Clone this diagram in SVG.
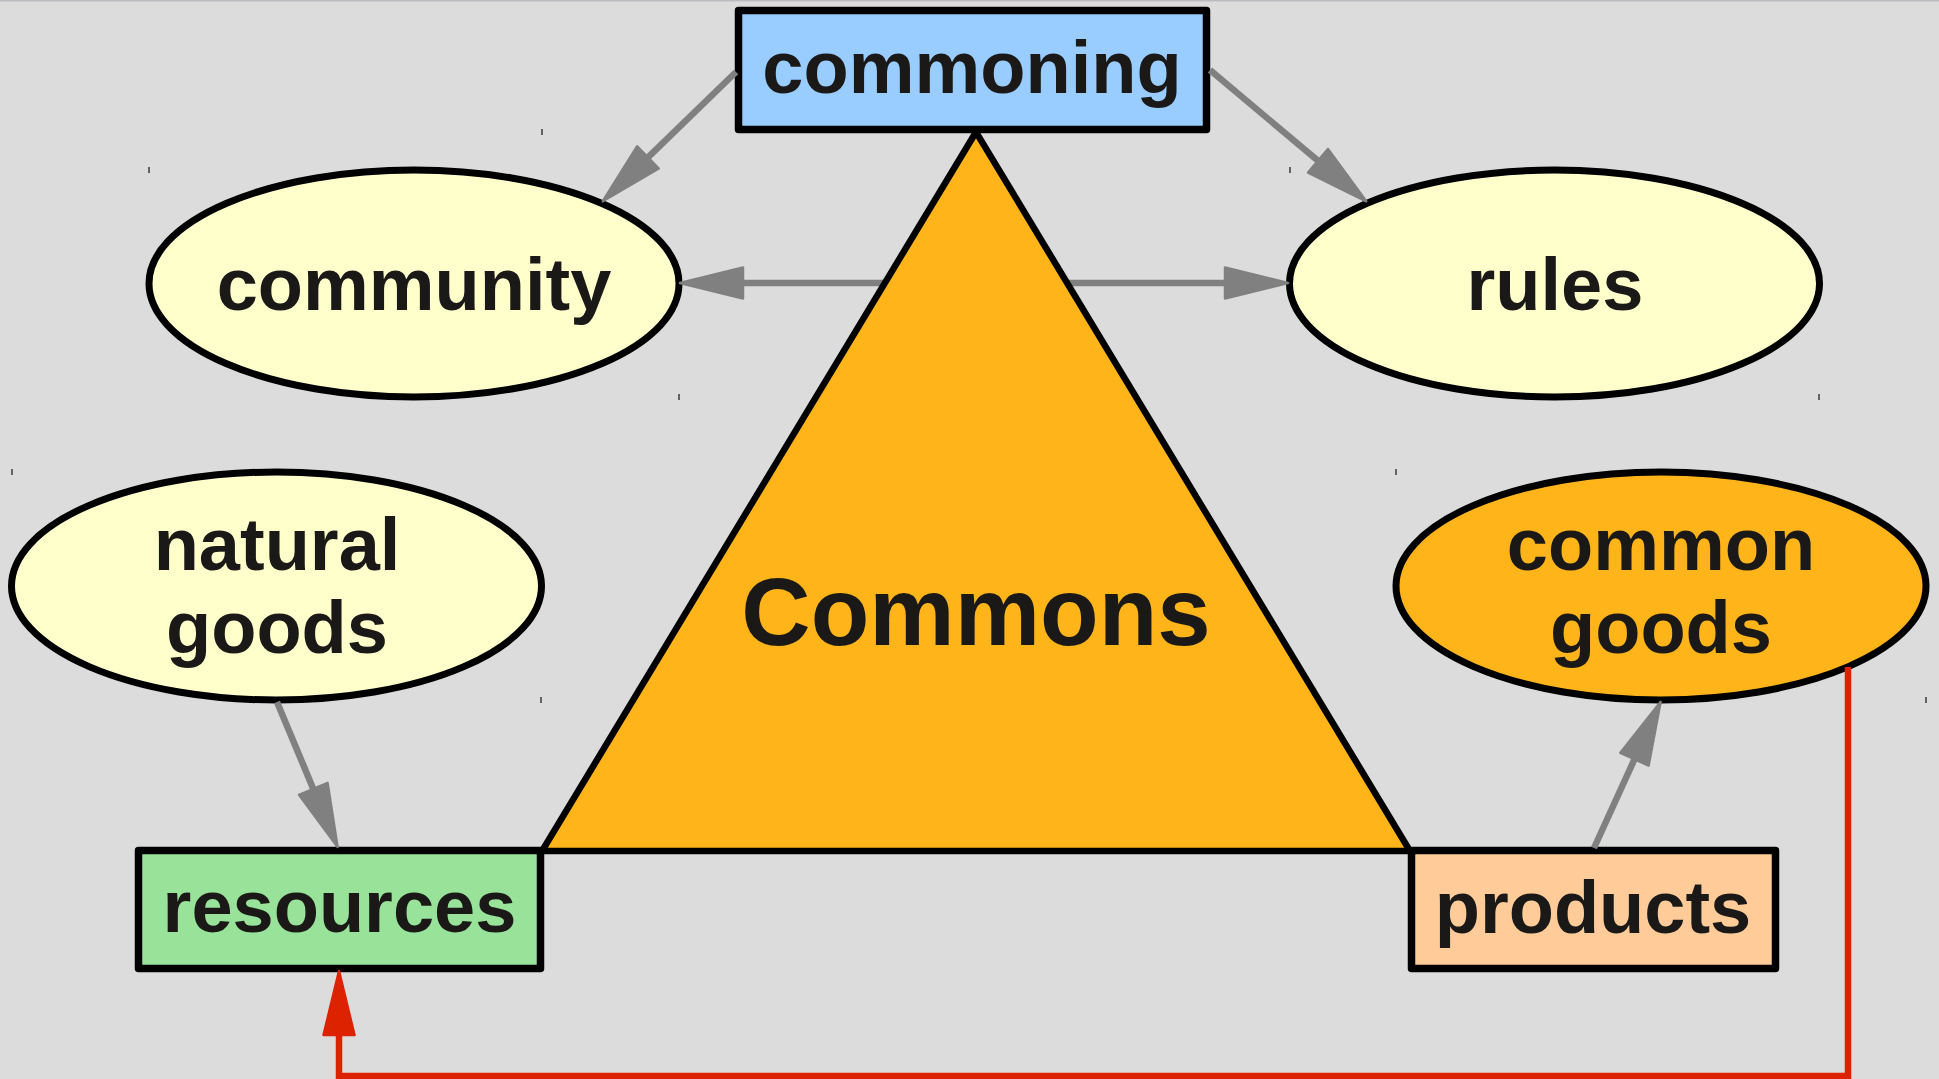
<svg xmlns="http://www.w3.org/2000/svg" width="1939" height="1079" viewBox="0 0 1939 1079">
<style>
.lbl{font-family:"Liberation Sans",Arial,sans-serif;font-weight:bold;font-size:74px;fill:#1a1918;text-anchor:middle}
.big{font-size:96px}
.box{stroke:#000;stroke-width:7.5;stroke-linejoin:round}
.ell{stroke:#000;stroke-width:7}
.con{fill:none;stroke:#808080;stroke-width:6.5}
.red{fill:none;stroke:#dd2200;stroke-width:6.5}
.tick{stroke:#3a3a3a;stroke-width:1.5}
</style>
<defs>
<marker id="ag" markerUnits="userSpaceOnUse" orient="auto-start-reverse" refX="0" refY="0" markerWidth="80" markerHeight="40" overflow="visible">
<path d="M0,-15.5 L63,0 L0,15.5 z" fill="#808080" stroke="#808080" stroke-width="2.5" stroke-linejoin="round"/>
</marker>
<marker id="ar" markerUnits="userSpaceOnUse" orient="auto" refX="0" refY="0" markerWidth="80" markerHeight="40" overflow="visible">
<path d="M0,-15.5 L64,0 L0,15.5 z" fill="#dd2200" stroke="#dd2200" stroke-width="2.5" stroke-linejoin="round"/>
</marker>
</defs>
<rect x="0" y="0" width="1939" height="1079" fill="#dcdcdc"/>
<rect x="0" y="0" width="1939" height="1.5" fill="#bbbbc0"/>
<g id="ticks">
<line class="tick" x1="149" y1="167" x2="149" y2="173"/>
<line class="tick" x1="679" y1="394" x2="679" y2="400"/>
<line class="tick" x1="12" y1="469" x2="12" y2="475"/>
<line class="tick" x1="541" y1="697" x2="541" y2="703"/>
<line class="tick" x1="1290" y1="167" x2="1290" y2="173"/>
<line class="tick" x1="1819" y1="394" x2="1819" y2="400"/>
<line class="tick" x1="1396" y1="469" x2="1396" y2="475"/>
<line class="tick" x1="1926" y1="697" x2="1926" y2="703"/>
<line class="tick" x1="542" y1="129" x2="542" y2="135"/>
</g>
<g id="commoning">
<rect class="box" x="738.5" y="10.5" width="468" height="119" fill="#99ccff"/>
<text class="lbl" x="972" y="93">commoning</text>
</g>
<g id="community">
<ellipse class="ell" cx="414" cy="283.5" rx="265" ry="113.5" fill="#ffffcc"/>
<text class="lbl" x="414" y="310">community</text>
</g>
<g id="rules">
<ellipse class="ell" cx="1554.5" cy="283.5" rx="265" ry="113.5" fill="#ffffcc"/>
<text class="lbl" x="1555" y="310">rules</text>
</g>
<g id="natural-goods">
<ellipse class="ell" cx="276.5" cy="586" rx="265" ry="114" fill="#ffffcc"/>
<text class="lbl" x="277" y="570">natural</text>
<text class="lbl" x="277" y="653">goods</text>
</g>
<g id="common-goods">
<ellipse class="ell" cx="1661" cy="586" rx="265" ry="114" fill="#ffb41a"/>
<text class="lbl" x="1661" y="570">common</text>
<text class="lbl" x="1661" y="653">goods</text>
</g>
<g id="resources">
<rect class="box" x="138.5" y="850.5" width="402" height="118" fill="#99e299"/>
<text class="lbl" x="339.5" y="932">resources</text>
</g>
<g id="products">
<rect class="box" x="1411.5" y="850.5" width="364" height="118" fill="#ffcc99"/>
<text class="lbl" x="1593" y="933">products</text>
</g>
<g id="connectors">
<path class="con" d="M736,72 L648,157.4" marker-end="url(#ag)"/>
<path class="con" d="M1210,70 L1318,160.8" marker-end="url(#ag)"/>
<path class="con" d="M743,283 L1225,283" marker-start="url(#ag)" marker-end="url(#ag)"/>
<path class="con" d="M277,702 L313.3,788.9" marker-end="url(#ag)"/>
<path class="con" d="M1594,848 L1634.5,759.2" marker-end="url(#ag)"/>
<path class="red" d="M1848,667 V1076 H339 V1035" marker-end="url(#ar)"/>
</g>
<g id="commons">
<polygon points="976,132 542,851 1410,851" fill="#ffb41a" stroke="#000" stroke-width="6.5" stroke-linejoin="miter"/>
<text class="lbl big" x="976" y="645">Commons</text>
</g>
</svg>
